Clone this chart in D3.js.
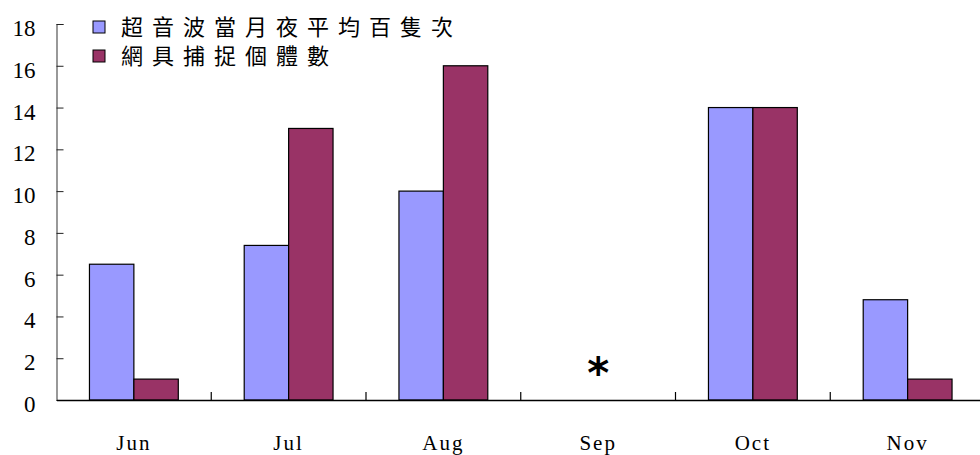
<!DOCTYPE html>
<html>
<head>
<meta charset="utf-8">
<script src="https://cdn.jsdelivr.net/npm/d3@7"></script>
<style>
    body { margin: 0; background: #fff; overflow: hidden; }
</style>
</head>
<body>
<div id="chart"></div>
<script>
// data
var months = ["Jun", "Jul", "Aug", "Sep", "Oct", "Nov"];
var seriesNames = ["超音波當月夜平均百隻次", "網具捕捉個體數"];
var ultrasonic = [6.5, 7.4, 10, null, 14, 4.8];
var netCaught = [1, 13, 16, null, 14, 1];
var yTicks = [0, 2, 4, 6, 8, 10, 12, 14, 16, 18];
var noDataMonth = "Sep";
var colors = ["#9999ff", "#993366"];

var serif = "'Liberation Serif', 'DejaVu Serif', serif";
var cjk = "'Noto Sans CJK TC', 'Noto Sans CJK SC', sans-serif";

var svgWidth = 980;
var svgHeight = 455;
var margin = { top: 24, right: -5, bottom: 55, left: 56.5 };
var chart_width = svgWidth - margin.left - margin.right;
var chart_height = svgHeight - margin.top - margin.bottom;

var svg = d3.select("#chart")
    .append("svg")
    .attr("width", svgWidth)
    .attr("height", svgHeight);

var chartGroup = svg.append("g")
    .attr("transform", `translate(${margin.left}, ${margin.top})`);

// scales
var xScale = d3.scaleBand()
    .domain(months)
    .range([0, chart_width]);

var bw = xScale.bandwidth();
var x1 = d3.scaleBand()
    .domain([0, 1])
    .range([bw * 0.213, bw * 0.787]);

var yScale = d3.scaleLinear()
    .domain([0, 18])
    .range([chart_height, 0]);

// bars
var rows = months.map(function(m, i) {
    return { month: m, values: [ultrasonic[i], netCaught[i]] };
});

var groups = chartGroup.selectAll(".grp")
    .data(rows)
    .enter()
    .append("g")
    .attr("transform", d => `translate(${xScale(d.month)}, 0)`);

groups.selectAll("rect")
    .data(d => d.values.map((v, j) => ({ v: v, j: j })).filter(e => e.v != null))
    .enter()
    .append("rect")
    .attr("x", d => x1(d.j))
    .attr("width", x1.bandwidth())
    .attr("y", d => yScale(d.v))
    .attr("height", d => chart_height - yScale(d.v))
    .attr("fill", d => colors[d.j])
    .attr("stroke", "#000")
    .attr("stroke-width", 1.2);

// no data marker
chartGroup.append("text")
    .attr("x", xScale(noDataMonth) + bw / 2)
    .attr("y", chart_height - 12)
    .attr("text-anchor", "middle")
    .style("font-family", "'DejaVu Sans', sans-serif")
    .style("font-weight", "bold")
    .style("font-size", "42px")
    .text("*");

// y axis
var leftAxis = d3.axisRight(yScale)
    .tickValues(yTicks)
    .tickSize(7)
    .tickFormat(d3.format("d"));

var yAxisG = chartGroup.append("g").call(leftAxis);
yAxisG.select(".domain").attr("stroke", "#555").attr("stroke-width", 1.2);
yAxisG.selectAll(".tick line").attr("stroke", "#222");
yAxisG.selectAll(".tick text")
    .attr("x", -21)
    .attr("dy", "0.5em")
    .attr("text-anchor", "end")
    .style("font-family", serif)
    .style("font-size", "23px")
    .style("fill", "#000");

// x axis
var bottomAxis = d3.axisTop(xScale)
    .tickSize(0)
    .tickFormat("");
var xAxisG = chartGroup.append("g")
    .attr("transform", `translate(0, ${chart_height})`)
    .call(bottomAxis);
xAxisG.select(".domain").attr("stroke", "#000").attr("stroke-width", 1.5);

// category dividers
chartGroup.selectAll(".divider")
    .data(months.slice(1))
    .enter()
    .append("line")
    .attr("x1", d => xScale(d))
    .attr("x2", d => xScale(d))
    .attr("y1", chart_height)
    .attr("y2", chart_height - 8)
    .attr("stroke", "#000")
    .attr("stroke-width", 1.2);

// month labels
chartGroup.selectAll(".monthText")
    .data(months)
    .enter()
    .append("text")
    .attr("x", d => xScale(d) + bw / 2)
    .attr("y", chart_height + 50)
    .attr("text-anchor", "middle")
    .style("font-family", serif)
    .style("font-size", "21px")
    .style("letter-spacing", "2px")
    .text(d => d);

// legend
var legend = svg.append("g")
    .attr("transform", "translate(93, 21)");

var items = legend.selectAll("g")
    .data(seriesNames)
    .enter()
    .append("g")
    .attr("transform", (d, i) => `translate(0, ${i * 29})`);

items.append("rect")
    .attr("width", 12)
    .attr("height", 12)
    .attr("fill", (d, i) => colors[i])
    .attr("stroke", "#000")
    .attr("stroke-width", 1);

items.append("text")
    .attr("x", 28)
    .attr("y", 14)
    .style("font-family", cjk)
    .style("font-size", "22px")
    .style("letter-spacing", "9px")
    .text(d => d);
</script>
</body>
</html>
